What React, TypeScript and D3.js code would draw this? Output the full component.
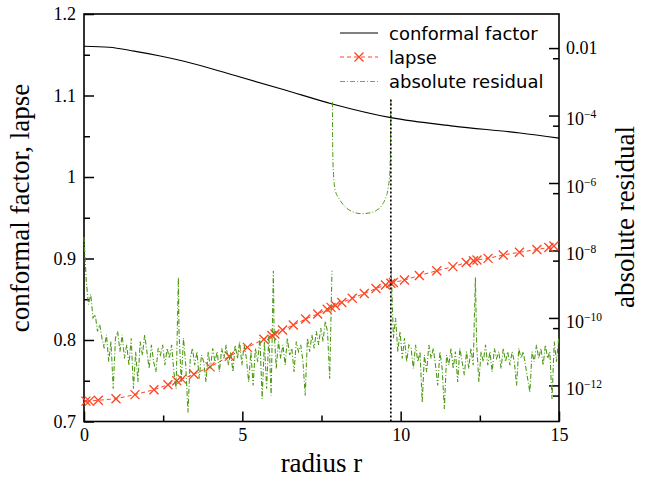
import React, { useEffect, useRef } from "react";
import * as d3 from "d3";

// axis ticks
const radiusTicks = [0, 5, 10, 15];
const radiusMinorTicks = [2.5, 7.5, 12.5];
const leftTicks = [0.7, 0.8, 0.9, 1, 1.1, 1.2];
const leftMinorTicks = [0.75, 0.85, 0.95, 1.05, 1.15];
const residualTicks = [1e-2, 1e-4, 1e-6, 1e-8, 1e-10, 1e-12];
const residualMinorTicks = [5e-3, 5e-5, 5e-7, 5e-9, 5e-11, 5e-13];

// conformal factor
const confR = [0, 0.79, 1.58, 2.37, 3.16, 4.74, 6.32, 7.84, 9.69, 11.66, 13.77, 15];
const confVal = [1.1604, 1.1592, 1.1545, 1.1488, 1.142, 1.1248, 1.1071, 1.0896, 1.0728, 1.0625, 1.054, 1.0478];

// lapse collocation points
const lapseR = [0.06, 0.17, 0.45, 1.01, 1.61, 2.21, 2.65, 2.93, 3.09, 3.47, 3.98, 4.59, 5.16, 5.68, 5.93,
  6.03, 6.27, 6.61, 7.0, 7.38, 7.68, 7.8, 7.94, 8.14, 8.47, 8.85, 9.22, 9.52, 9.69, 9.77, 10.12, 10.59,
  11.14, 11.65, 12.07, 12.3, 12.41, 12.76, 13.24, 13.75, 14.3, 14.68, 14.84];
const lapseVal = [0.725, 0.725, 0.726, 0.728, 0.733, 0.739, 0.745, 0.75, 0.752, 0.758, 0.767, 0.78, 0.791,
  0.801, 0.8055, 0.8074, 0.8123, 0.8184, 0.8258, 0.8319, 0.8377, 0.84, 0.8423, 0.846, 0.8512, 0.857,
  0.8632, 0.8675, 0.8696, 0.8706, 0.8736, 0.8791, 0.885, 0.89, 0.895, 0.8972, 0.8982, 0.9002, 0.9043,
  0.9076, 0.911, 0.9135, 0.9153];

// absolute residual, log10 values sampled evenly across each domain
const resD1 = [-7.6, -8.9, -9.6, -9.3, -10.0, -9.9, -10.4, -10.2, -10.6, -10.9, -10.5, -11.3, -10.7, -12.1,
  -10.6, -10.4, -11.0, -10.5, -11.2, -10.8, -11.4, -10.6, -12.1, -11.0, -11.9, -10.7, -11.1, -10.5, -11.0,
  -11.5, -10.8, -11.3, -11.6, -10.9, -11.1, -10.8, -11.4, -10.9, -11.2, -10.8, -11.6, -12.1, -8.8];
const resD2 = [-10.4, -11.9, -10.6, -11.4, -12.8, -11.2, -10.9, -11.4, -11.0, -11.8, -11.1, -11.3, -11.9,
  -11.0, -11.5, -10.9, -11.3, -11.0, -11.6, -10.9, -11.2, -10.8, -11.4, -11.0, -11.6, -10.8, -11.2, -10.7,
  -11.4, -10.8, -11.2, -11.9, -11.0, -12.0, -10.9, -11.3, -10.6, -12.4, -10.7, -12.1, -10.5, -12.3, -8.6];
const resD3 = [-10.3, -11.5, -10.7, -11.2, -10.8, -11.4, -10.6, -11.1, -10.9, -11.6, -10.7, -11.0, -10.8,
  -11.3, -12.3, -10.6, -11.0, -10.5, -10.9, -10.4, -10.8, -10.3, -10.7, -10.1, -10.4, -11.8, -8.6];
const resUR = [7.845, 7.85, 7.86, 7.88, 7.93, 8.08, 8.3, 8.5, 8.77, 9.0, 9.24, 9.4, 9.5, 9.61, 9.66, 9.68, 9.69];
const resUVal = [-3.6, -4.6, -5.3, -5.75, -6.2, -6.5, -6.75, -6.86, -6.91, -6.89, -6.81, -6.67, -6.5, -6.12,
  -5.62, -4.8, -3.55];
const resD5 = [-8.5, -10.6, -10.0, -11.0, -10.4, -11.2, -10.6, -11.3, -10.8, -10.9, -11.5, -10.8, -11.3,
  -11.0, -12.5, -11.1, -11.6, -10.8, -11.2, -10.9, -11.4, -12.0, -11.0, -11.5, -12.7, -11.1, -11.4, -10.9,
  -11.5, -11.0, -11.9, -10.9, -11.3, -11.7, -11.0, -11.5, -10.9, -11.4, -8.8];
const resD6 = [-10.8, -11.9, -11.0, -11.3, -10.8, -11.4, -11.0, -11.6, -10.9, -11.2, -11.0, -11.5, -10.9,
  -11.3, -11.0, -11.4, -11.0, -11.3, -12.0, -10.9, -11.2, -11.0, -11.4, -11.8, -12.2, -11.0, -11.3, -10.8,
  -11.2, -10.9, -11.4, -10.8, -11.2, -11.0, -12.4, -10.7, -11.3, -10.6];

const boundary = 9.69;

const serif = "Liberation Serif, Tinos, DejaVu Serif, serif";
const sans = "DejaVu Sans, Verdana, sans-serif";
const red = "#ff4422";
const green = "#4e9a16";

const spread = (r0: number, r1: number, vals: number[]): [number, number][] =>
  vals.map((v, i) => [r0 + (i * (r1 - r0)) / (vals.length - 1), v]);

export default function App() {
  const ref = useRef<SVGSVGElement>(null);

  useEffect(() => {
    const svg = d3.select(ref.current);
    svg.selectAll("*").remove();

    const x = d3.scaleLinear().domain([0, 15]).range([84, 559]);
    const yL = d3.scaleLinear().domain([0.7, 1.2]).range([421.5, 14]);
    const yR = d3.scaleLog().domain([Math.pow(10, -13.07), Math.pow(10, -0.99)]).range([421.5, 14]);

    const tidy = (g: any) => {
      g.select(".domain").remove();
      g.selectAll("line").attr("stroke", "#000").attr("stroke-width", 1.5);
      g.attr("font-family", null).attr("font-size", null);
      g.selectAll("text").attr("fill", "#000").style("font-family", serif).style("font-size", "18px");
    };

    // left axis
    svg.append("g").attr("transform", "translate(84,0)")
      .call(d3.axisLeft(yL).tickValues(leftTicks).tickSize(-10).tickPadding(8).tickFormat((d: any) => String(d)))
      .call(tidy);
    svg.append("g").attr("transform", "translate(84,0)")
      .call(d3.axisLeft(yL).tickValues(leftMinorTicks).tickSize(-6).tickFormat(() => ""))
      .call(tidy);

    // bottom axis
    svg.append("g").attr("transform", "translate(0,421.5)")
      .call(d3.axisBottom(x).tickValues(radiusTicks).tickSize(-10).tickPadding(7).tickFormat((d: any) => String(d)))
      .call(tidy);
    svg.append("g").attr("transform", "translate(0,421.5)")
      .call(d3.axisBottom(x).tickValues(radiusMinorTicks).tickSize(-6).tickFormat(() => ""))
      .call(tidy);

    // right (log) axis
    const rAxis = svg.append("g").attr("transform", "translate(559,0)")
      .call(d3.axisRight(yR).tickValues(residualTicks).tickSize(-10).tickPadding(7).tickFormat(() => ""))
      .call(tidy);
    rAxis.selectAll(".tick text").each(function (d: any) {
      const t = d3.select(this as SVGTextElement);
      const e = Math.round(Math.log10(d));
      if (e === -2) {
        t.text("0.01");
      } else {
        t.attr("dy", "0.52em");
        t.append("tspan").text("10");
        t.append("tspan").attr("dy", -7).style("font-size", "11.5px").text("\u2212" + -e);
      }
    });
    svg.append("g").attr("transform", "translate(559,0)")
      .call(d3.axisRight(yR).tickValues(residualMinorTicks).tickSize(-6).tickFormat(() => ""))
      .call(tidy);

    // frame
    svg.append("rect")
      .attr("x", 84).attr("y", 14).attr("width", 475).attr("height", 407.5)
      .attr("fill", "none").attr("stroke", "#000").attr("stroke-width", 1.6);

    // conformal factor
    svg.append("path")
      .attr("d", d3.line<number>().x((_, i) => x(confR[i])).y((d) => yL(d)).curve(d3.curveMonotoneX)(confVal))
      .attr("fill", "none").attr("stroke", "#000").attr("stroke-width", 1.2);

    // lapse
    svg.append("path")
      .attr("d", d3.line<number>().x((_, i) => x(lapseR[i])).y((d) => yL(d))(lapseVal))
      .attr("fill", "none").attr("stroke", red).attr("stroke-width", 1).attr("stroke-dasharray", "4,3");
    const cross = "M-4.5,-4.5L4.5,4.5M-4.5,4.5L4.5,-4.5";
    svg.append("g").selectAll("path").data(lapseVal).join("path")
      .attr("transform", (d, i) => `translate(${x(lapseR[i])},${yL(d)})`)
      .attr("d", cross).attr("fill", "none").attr("stroke", red).attr("stroke-width", 1.3);

    // residual
    const resLine = d3.line<[number, number]>().x((d) => x(d[0])).y((d) => yR(Math.pow(10, d[1])));
    const inner = [...spread(0, 2.98, resD1), ...spread(3.0, 5.98, resD2), ...spread(6.0, 7.83, resD3)];
    const outer = [...spread(9.7, 12.36, resD5), ...spread(12.4, 14.99, resD6)];
    const uPts: [number, number][] = resUR.map((r, i) => [r, resUVal[i]]);
    [inner, outer].forEach((pts) => {
      svg.append("path").attr("d", resLine(pts))
        .attr("fill", "none").attr("stroke", green).attr("stroke-width", 1.1).attr("stroke-dasharray", "5,2,1,2");
    });
    svg.append("path").attr("d", resLine.curve(d3.curveMonotoneX)(uPts))
      .attr("fill", "none").attr("stroke", green).attr("stroke-width", 1).attr("stroke-dasharray", "5,2,1,2");

    // domain boundary
    svg.append("line")
      .attr("x1", x(boundary)).attr("x2", x(boundary))
      .attr("y1", yL(1.095)).attr("y2", yL(0.7))
      .attr("stroke", "#000").attr("stroke-width", 1.6).attr("stroke-dasharray", "2,2");

    // legend
    const legend = svg.append("g").style("font-family", sans).style("font-size", "18px");
    const rows = [
      { label: "conformal factor", y: 39.5 },
      { label: "lapse", y: 63.5 },
      { label: "absolute residual", y: 88 },
    ];
    rows.forEach((row, i) => {
      const ly = row.y - 6.5;
      const ln = legend.append("line").attr("x1", 340).attr("x2", 378).attr("y1", ly).attr("y2", ly).attr("stroke-width", 1);
      if (i === 0) ln.attr("stroke", "#000");
      if (i === 1) {
        ln.attr("stroke", red).attr("stroke-dasharray", "4,3");
        legend.append("path").attr("transform", `translate(359,${ly})`).attr("d", cross)
          .attr("fill", "none").attr("stroke", red).attr("stroke-width", 1.3);
      }
      if (i === 2) ln.attr("stroke", "#6ab43a").attr("stroke-dasharray", "5,2,1,2");
      legend.append("text").attr("x", 389).attr("y", row.y).attr("fill", "#000").text(row.label);
    });

    // axis titles
    const title = (t: any) => t.attr("text-anchor", "middle").style("font-family", serif).style("font-size", "27px");
    svg.append("text").attr("transform", "translate(29,208) rotate(-90)").call(title).text("conformal factor, lapse");
    svg.append("text").attr("transform", "translate(634,217) rotate(-90)").call(title).text("absolute residual");
    svg.append("text").attr("x", 321.5).attr("y", 472).call(title).text("radius r");
  }, []);

  return (
    <svg ref={ref} width={650} height={477}
      style={{ position: "absolute", left: 0, top: 0, background: "white" }} />
  );
}
